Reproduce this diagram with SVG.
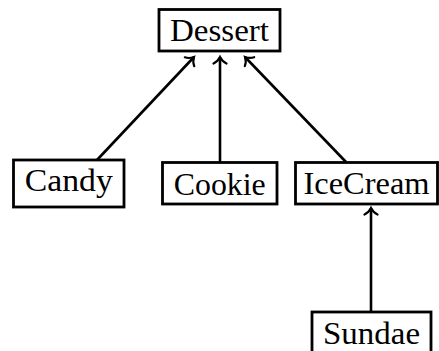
<svg xmlns="http://www.w3.org/2000/svg" width="439" height="351" viewBox="0 0 439 351">
  <style>
    .box { fill: #ffffff; stroke: #000000; stroke-width: 2.8; }
    .lbl { font-family: "Liberation Serif", "DejaVu Serif", serif; font-size: 32px; fill: #000000; text-anchor: middle; }
    .edge { fill: none; stroke: #000000; stroke-width: 2.6; marker-end: url(#arr); }
  </style>
  <defs>
    <marker id="arr" markerUnits="userSpaceOnUse" markerWidth="16" markerHeight="18" viewBox="-8 -9 10 18" refX="0" refY="0" orient="auto" overflow="visible">
      <path d="M -6.5,-6.5 C -5,-3 -2,-1 0,0 C -2,1 -5,3 -6.5,6.5" fill="none" stroke="#000000" stroke-width="2.2" stroke-linecap="round"/>
    </marker>
  </defs>
  <g id="connectors">
    <line class="edge" x1="97" y1="160" x2="194" y2="57"/>
    <line class="edge" x1="220" y1="162" x2="220" y2="57"/>
    <line class="edge" x1="346" y1="162" x2="245" y2="57"/>
    <line class="edge" x1="371" y1="312" x2="371" y2="208"/>
  </g>
  <g id="dessert">
    <rect class="box" x="159" y="9.5" width="121" height="41.5"/>
    <text class="lbl" x="219.5" y="40.5" textLength="99" lengthAdjust="spacingAndGlyphs">Dessert</text>
  </g>
  <g id="candy">
    <rect class="box" x="13.5" y="160" width="110.5" height="47"/>
    <text class="lbl" x="68.75" y="191" textLength="88" lengthAdjust="spacingAndGlyphs">Candy</text>
  </g>
  <g id="cookie">
    <rect class="box" x="162.5" y="162.5" width="114.5" height="41.5"/>
    <text class="lbl" x="219.75" y="194.5" textLength="92" lengthAdjust="spacingAndGlyphs">Cookie</text>
  </g>
  <g id="icecream">
    <rect class="box" x="295.5" y="162.5" width="142" height="41.5"/>
    <text class="lbl" x="366.5" y="194" textLength="126" lengthAdjust="spacingAndGlyphs">IceCream</text>
  </g>
  <g id="sundae">
    <rect class="box" x="312" y="312" width="119" height="42"/>
    <text class="lbl" x="371.5" y="344" textLength="97" lengthAdjust="spacingAndGlyphs">Sundae</text>
  </g>
</svg>
